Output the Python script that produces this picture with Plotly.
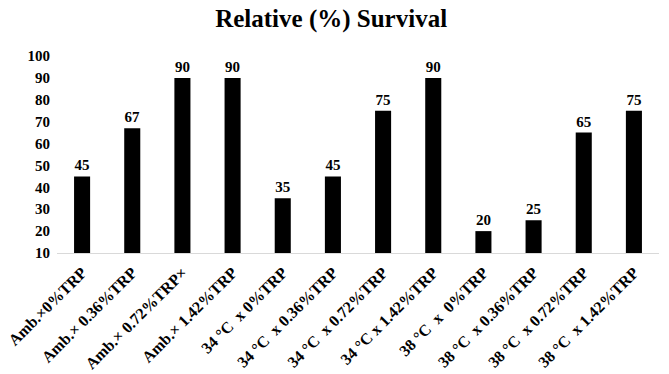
import plotly.graph_objects as go

categories = ["Amb.×0%TRP", "Amb.× 0.36%TRP", "Amb.× 0.72%TRP×", "Amb.× 1.42%TRP",
              "34 °C  x 0%TRP", "34 °C  x 0.36%TRP", "34 °C  x 0.72%TRP", "34 °C x 1.42%TRP",
              "38 °C  x  0%TRP", "38 °C  x 0.36%TRP", "38 °C  x 0.72%TRP", "38 °C  x 1.42%TRP"]
survival = [45, 67, 90, 90, 35, 45, 75, 90, 20, 25, 65, 75]
y_ticks = [10, 20, 30, 40, 50, 60, 70, 80, 90, 100]

font_family = "Liberation Serif, Times New Roman, serif"

fig = go.Figure(go.Bar(
    x=categories, y=survival,
    marker=dict(color="black", line=dict(width=0)),
    text=[str(v) for v in survival], textposition="outside",
    texttemplate="<b>%{y}</b>",
    textfont=dict(family=font_family, size=15, color="black"),
    cliponaxis=False,
))

fig.update_layout(
    width=669, height=374,
    margin=dict(l=57, r=10, t=56, b=121),
    paper_bgcolor="white", plot_bgcolor="white",
    title=dict(text="<b>Relative (%) Survival</b>", x=0.495, xanchor="center", y=0.952, yanchor="middle",
               font=dict(family=font_family, size=25, color="black")),
    bargap=0.68,
    showlegend=False,
    font=dict(family=font_family, color="black"),
)
fig.update_xaxes(
    tickangle=-45, showline=True, linecolor="#d9d9d9", linewidth=1,
    showgrid=False, ticks="", automargin=False,
    tickfont=dict(family=font_family, size=16, color="black"),
    ticklabelstandoff=3,
    tickvals=categories, ticktext=["<b>" + c + "</b>" for c in categories],
)
fig.update_yaxes(
    range=[10, 100], tickvals=y_ticks, ticktext=["<b>%d</b>" % v for v in y_ticks],
    showgrid=False, zeroline=False, showline=False,
    ticks="", automargin=False, ticklabelstandoff=6,
    tickfont=dict(family=font_family, size=15, color="black"),
)

fig.write_html("out.html", config={"displayModeBar": False},
               post_script="document.body.style.margin='0';")
